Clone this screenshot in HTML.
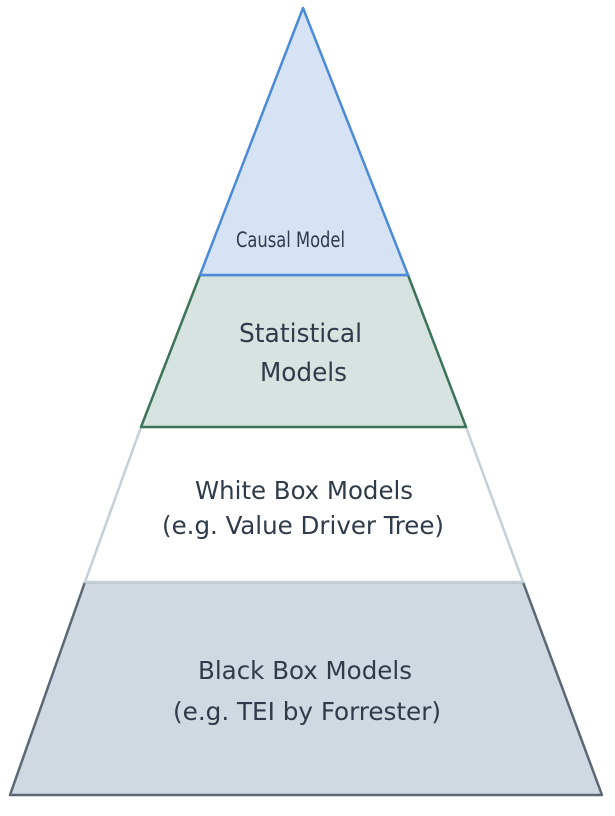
<!DOCTYPE html>
<html><head><style>
html,body{margin:0;padding:0;background:#fff;}
svg text{font-family:"DejaVu Sans Condensed","DejaVu Sans",sans-serif;fill:#2f3b4a;text-anchor:middle;}
</style></head><body>
<svg width="615" height="811" viewBox="0 0 615 811" xmlns="http://www.w3.org/2000/svg">
<polygon points="85,582 523,582 602,795 10,795" fill="#d0d8e1" stroke="#5b6775" stroke-width="2.5" stroke-linejoin="round"/>
<polygon points="141,427 466,427 523,582 85,582" fill="#ffffff" stroke="#c5cfd8" stroke-width="2.5" stroke-linejoin="round"/>
<polygon points="200,275 408,275 466,427 141,427" fill="#d6e3e0" stroke="#3d7358" stroke-width="2.5" stroke-linejoin="round"/>
<polygon points="303,8 408,275 200,275" fill="#d6e3f4" stroke="#4a8ad8" stroke-width="2.5" stroke-linejoin="round"/>
<text x="290.5" y="247" font-size="21" textLength="109" lengthAdjust="spacingAndGlyphs">Causal Model</text>
<text x="300.5" y="342" font-size="26" textLength="123" lengthAdjust="spacingAndGlyphs">Statistical</text>
<text x="303.5" y="381" font-size="26" textLength="87" lengthAdjust="spacingAndGlyphs">Models</text>
<text x="304" y="499" font-size="25" textLength="218" lengthAdjust="spacingAndGlyphs">White Box Models</text>
<text x="303" y="534" font-size="25" textLength="282" lengthAdjust="spacingAndGlyphs">(e.g. Value Driver Tree)</text>
<text x="305" y="679" font-size="25" textLength="214" lengthAdjust="spacingAndGlyphs">Black Box Models</text>
<text x="307" y="720" font-size="25" textLength="268" lengthAdjust="spacingAndGlyphs">(e.g. TEI by Forrester)</text>
</svg>
</body></html>
